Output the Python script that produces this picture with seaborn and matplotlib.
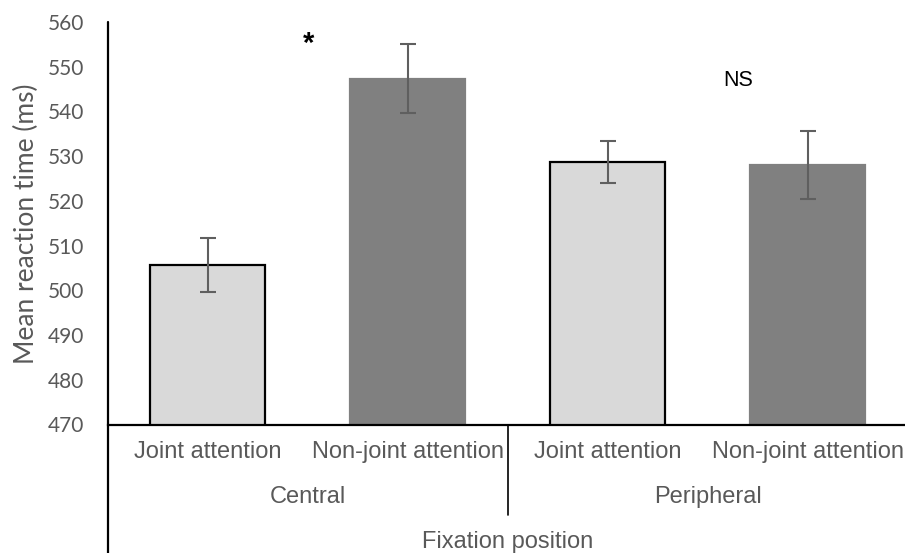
import matplotlib
matplotlib.use("Agg")
import matplotlib.pyplot as plt
import seaborn as sns
import pandas as pd
from matplotlib.lines import Line2D

# ---- data ----
positions = ["Central", "Central", "Peripheral", "Peripheral"]
attention = ["Joint attention", "Non-joint attention", "Joint attention", "Non-joint attention"]
mean_rt = [505.6, 547.3, 528.8, 528.1]
err_rt = [6.0, 7.7, 4.7, 7.6]
group_labels = ["Central", "Peripheral"]
y_ticks = [470, 480, 490, 500, 510, 520, 530, 540, 550, 560]

bar_colors = ["#D9D9D9", "#808080", "#D9D9D9", "#808080"]
edge_colors = ["black", "#808080", "black", "#808080"]

df = pd.DataFrame({
    "cond": [f"{p} {a}" for p, a in zip(positions, attention)],
    "rt": mean_rt,
})

sns.set_style("white")
plt.rcParams["font.family"] = ["Liberation Sans", "DejaVu Sans"]

fig = plt.figure(figsize=(9.05, 5.53), dpi=100)
ax = fig.add_axes([107.5 / 905, 1 - 424.5 / 553, 800 / 905, (424.5 - 22) / 553])

sns.barplot(data=df, x="cond", y="rt", hue="cond", palette=bar_colors,
            legend=False, width=0.575, ax=ax, errorbar=None, saturation=1)

for patch, ec in zip(ax.patches, edge_colors):
    patch.set_edgecolor(ec)
    patch.set_linewidth(1.6)

xs = list(range(len(mean_rt)))
ax.errorbar(xs, mean_rt, yerr=err_rt, fmt="none", ecolor="#5f5f5f",
            elinewidth=1.5, capsize=6, capthick=1.5, zorder=5)

ax.set_ylim(470, 560)
ax.set_xlim(-0.5, 3.5)
ax.set_yticks(y_ticks)
ax.set_yticklabels([str(t) for t in y_ticks], fontfamily="Lato", fontsize=15, color="#595959")
ax.set_xticks(xs)
ax.set_xticklabels(attention, fontsize=17, color="#595959")
ax.tick_params(axis="y", length=0, pad=17)
ax.tick_params(axis="x", length=0, pad=12)
ax.set_xlabel("")
ax.set_ylabel("Mean reaction time (ms)", fontfamily="Lato", fontsize=19, color="#595959", labelpad=6)

for s in ["top", "right"]:
    ax.spines[s].set_visible(False)
ax.spines["bottom"].set_color("black")
ax.spines["bottom"].set_linewidth(1.6)
ax.spines["left"].set_visible(False)

# y-axis line extending down to the bottom of the figure
ax.add_line(Line2D([0, 0], [1, -0.32], transform=ax.transAxes, color="black",
                   linewidth=1.6, clip_on=False))
# group separator
trans = ax.get_xaxis_transform()
ax.add_line(Line2D([1.5, 1.5], [0, -0.225], transform=trans, color="black",
                   linewidth=1.2, clip_on=False))

# group labels
blend = matplotlib.transforms.blended_transform_factory(ax.transData, fig.transFigure)
for gx, g in zip([0.5, 2.5], group_labels):
    ax.text(gx, 1 - 497 / 553, g, transform=blend,
            ha="center", va="center", fontsize=17, color="#595959")
fig.text(507.5 / 905, 1 - 542 / 553, "Fixation position", ha="center", va="center",
         fontsize=17, color="#595959")

# significance annotations
fig.text(309 / 905, 1 - 44 / 553, "*", ha="center", va="center", fontsize=21,
         fontweight="bold", color="black")
fig.text(738 / 905, 1 - 81 / 553, "NS", ha="center", va="center", fontsize=15.5, color="black")

fig.savefig("out.png", dpi=100)
